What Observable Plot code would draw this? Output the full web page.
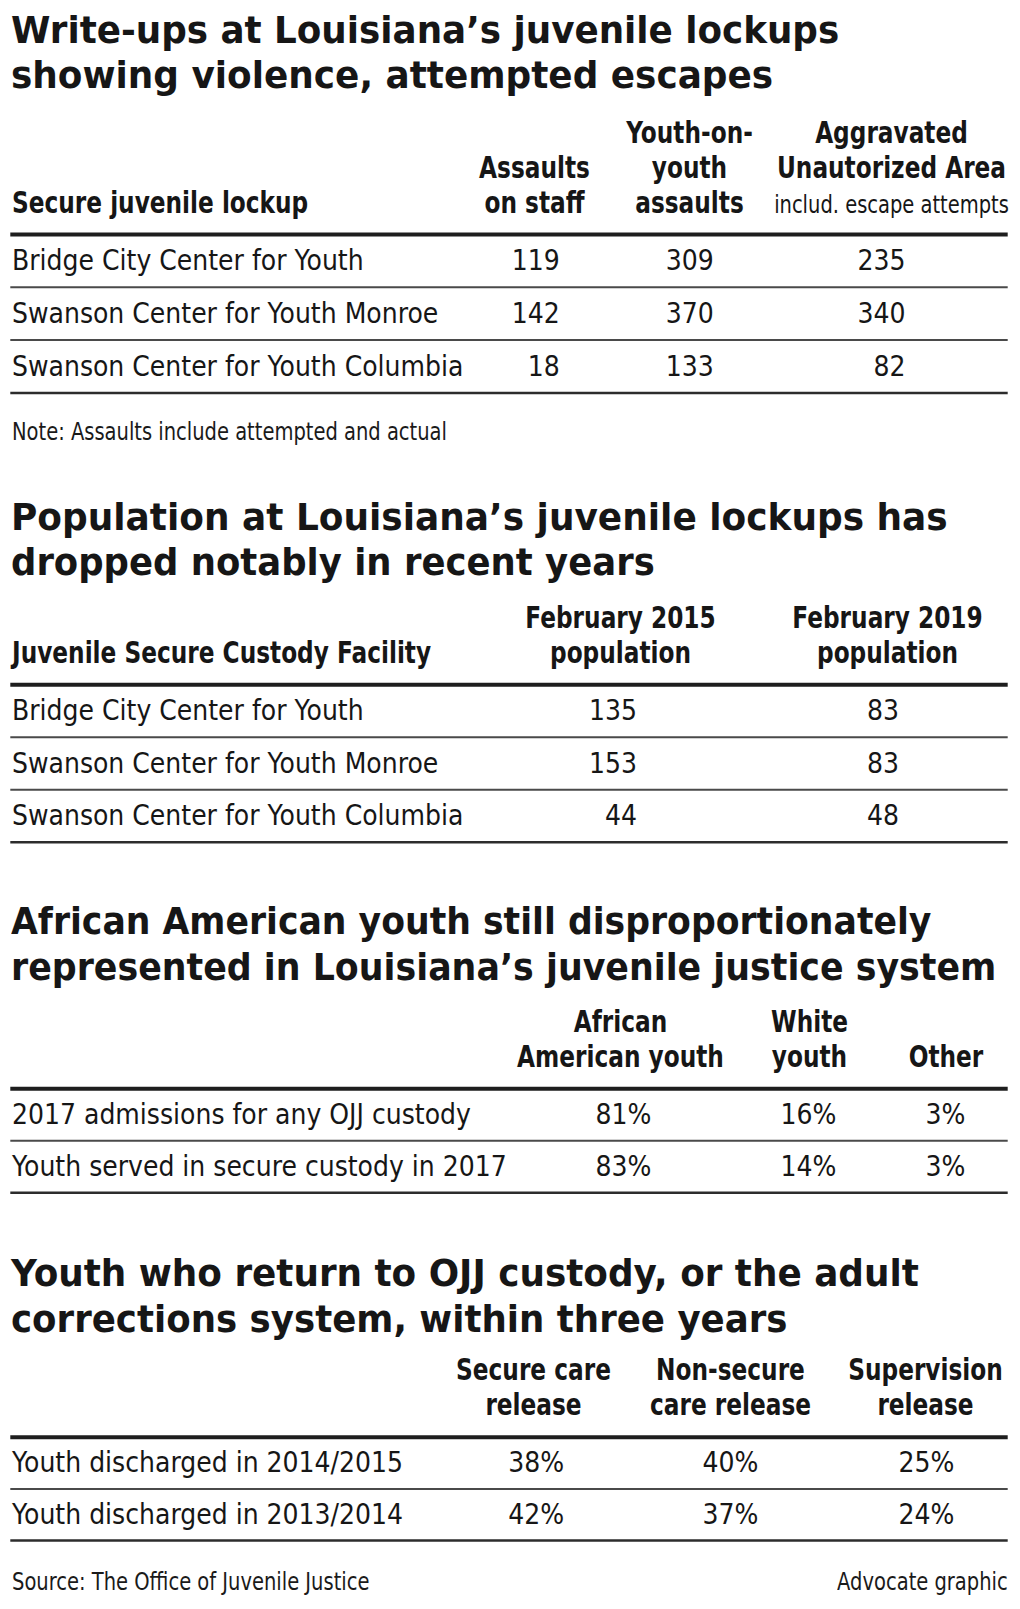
<!DOCTYPE html>
<html>
<head>
<meta charset="utf-8">
<script src="https://cdn.jsdelivr.net/npm/d3@7"></script>
<script src="https://cdn.jsdelivr.net/npm/@observablehq/plot@0.6"></script>
<style>
  html, body { margin: 0; padding: 0; background: #fff; }
  #page { position: relative; width: 1020px; height: 1609px; overflow: hidden; background: #fff; }
  .title { position: absolute; left: 11px; font-family: "DejaVu Sans", sans-serif; font-weight: 700;
           font-size: 38px; line-height: 45.5px; color: #161616; white-space: nowrap; z-index: 2; }
  .title span { display: block; height: 45.5px; transform-origin: 0 0; }
  .cap { position: absolute; font-family: "DejaVu Sans", sans-serif; font-size: 25px; line-height: 25px;
         color: #1a1a1a; white-space: nowrap; transform: scaleX(0.78); z-index: 2; }
  .cap.left { left: 11.5px; transform-origin: 0 0; }
  .cap.right { right: 12px; transform-origin: 100% 0; }
</style>
</head>
<body>
<div id="page"></div>
<script>
// ---------------- DATA ----------------
const titles = [
  ["Write-ups at Louisiana’s juvenile lockups", "showing violence, attempted escapes"],
  ["Population at Louisiana’s juvenile lockups has", "dropped notably in recent years"],
  ["African American youth still disproportionately", "represented in Louisiana’s juvenile justice system"],
  ["Youth who return to OJJ custody, or the adult", "corrections system, within three years"]
];

// Table 1: write-ups
const lockups = ["Bridge City Center for Youth", "Swanson Center for Youth Monroe", "Swanson Center for Youth Columbia"];
const writeupStub = "Secure juvenile lockup";
const writeupHeaders = ["Assaults\non staff", "Youth-on-\nyouth\nassaults", "Aggravated\nUnautorized Area"];
const writeupSubheads = ["", "", "includ. escape attempts"];
const assaultsOnStaff = [119, 142, 18];
const youthOnYouthAssaults = [309, 370, 133];
const aggravatedUnauthorizedArea = [235, 340, 82];
const writeupNote = "Note: Assaults include attempted and actual";

// Table 2: population
const facilities = ["Bridge City Center for Youth", "Swanson Center for Youth Monroe", "Swanson Center for Youth Columbia"];
const popStub = "Juvenile Secure Custody Facility";
const popHeaders = ["February 2015\npopulation", "February 2019\npopulation"];
const pop2015 = [135, 153, 44];
const pop2019 = [83, 83, 48];

// Table 3: race
const raceRows = ["2017 admissions for any OJJ custody", "Youth served in secure custody in 2017"];
const raceHeaders = ["African\nAmerican youth", "White\nyouth", "Other"];
const africanAmericanPct = [81, 83];
const whitePct = [16, 14];
const otherPct = [3, 3];

// Table 4: returns
const returnRows = ["Youth discharged in 2014/2015", "Youth discharged in 2013/2014"];
const returnHeaders = ["Secure care\nrelease", "Non-secure\ncare release", "Supervision\nrelease"];
const secureCarePct = [38, 42];
const nonSecureCarePct = [40, 37];
const supervisionPct = [25, 24];

const sourceText = "Source: The Office of Juvenile Justice";
const creditText = "Advocate graphic";

// ---------------- LAYOUT / STYLE ----------------
const FONT = "DejaVu Sans";
const INK = "#161616";
const LAYOUT = {
  left: 11.5, ruleX1: 10.3, ruleX2: 1007.7, headGap: 22, headLine: 35,
  headSize: 30, bodySize: 27.5, smallSize: 25, rowDy: 0.6,
  squeeze: {"30": 0.775, "27.5": 0.915, "25": 0.78},
  titleTops: [7.9, 494.6, 899.1, 1251.1],
  titleScale: [[0.940, 0.943], [0.945, 0.933], [0.912, 0.916], [0.942, 0.937]],
  noteTop: 418.9, footTop: 1568.9,
  sections: [
    {svgTop: 100, svgH: 300, rule: 234, rowH: 52.8, headX: [534, 689, 891], valX: [559.3, 713.2, 905.1]},
    {svgTop: 590, svgH: 260, rule: 684.3, rowH: 52.5, headX: [620, 887], valX: [636.5, 898.5]},
    {svgTop: 995, svgH: 205, rule: 1088.3, rowH: 52, headX: [620, 809, 945.5], valX: [651, 835.8, 965]},
    {svgTop: 1340, svgH: 205, rule: 1436.7, rowH: 51.7, headX: [533, 730, 925], valX: [563.7, 758, 954]}
  ]
};

const page = document.getElementById("page");

function drawTable(spec, lay) {
  const n = spec.rows.length;
  const y0 = lay.rule - lay.svgTop;
  const cells = [];
  spec.columns.forEach((vals, j) => vals.forEach((v, i) => cells.push({row: i, col: j, label: spec.format(v)})));
  const subs = (spec.subheads || []).map((label, col) => ({col, label})).filter(d => d.label);
  const lifted = new Set(subs.map(d => d.col));
  const heads = spec.headers.map((label, col) => ({col, label}));
  const common = {fontFamily: FONT, fill: INK};
  const marks = [
    Plot.ruleY(d3.range(1, n), {y: d => d, x1: LAYOUT.ruleX1, x2: LAYOUT.ruleX2, stroke: "#4a4a4a", strokeWidth: 2}),
    Plot.ruleY([0], {y: d => d, x1: LAYOUT.ruleX1, x2: LAYOUT.ruleX2, stroke: "#1e1e1e", strokeWidth: 4}),
    Plot.ruleY([n], {y: d => d, x1: LAYOUT.ruleX1, x2: LAYOUT.ruleX2, stroke: "#2c2c2c", strokeWidth: 2.5}),
    Plot.text(heads.filter(d => !lifted.has(d.col)), {
      ...common, x: d => lay.headX[d.col], y: 0, dy: -LAYOUT.headGap, text: "label",
      textAnchor: "middle", lineAnchor: "bottom", fontWeight: "bold", fontSize: LAYOUT.headSize,
      lineHeight: LAYOUT.headLine / LAYOUT.headSize
    }),
    Plot.text(heads.filter(d => lifted.has(d.col)), {
      ...common, x: d => lay.headX[d.col], y: 0, dy: -LAYOUT.headGap - LAYOUT.headLine, text: "label",
      textAnchor: "middle", lineAnchor: "bottom", fontWeight: "bold", fontSize: LAYOUT.headSize,
      lineHeight: LAYOUT.headLine / LAYOUT.headSize
    }),
    Plot.text(subs, {
      ...common, x: d => lay.headX[d.col], y: 0, dy: -LAYOUT.headGap, text: "label",
      textAnchor: "middle", lineAnchor: "bottom", fontSize: LAYOUT.smallSize
    }),
    Plot.text(spec.rows, {
      ...common, x: LAYOUT.left, y: (d, i) => i + 0.5, dy: LAYOUT.rowDy, text: d => d,
      textAnchor: "start", lineAnchor: "middle", fontSize: LAYOUT.bodySize
    }),
    Plot.text(cells, {
      ...common, x: d => lay.valX[d.col], y: d => d.row + 0.5, dy: LAYOUT.rowDy, text: "label",
      textAnchor: "end", lineAnchor: "middle", fontSize: LAYOUT.bodySize
    })
  ];
  if (spec.stub) {
    marks.push(Plot.text([spec.stub], {
      ...common, x: LAYOUT.left, y: 0, dy: -LAYOUT.headGap, text: d => d,
      textAnchor: "start", lineAnchor: "bottom", fontWeight: "bold", fontSize: LAYOUT.headSize
    }));
  }
  const svg = Plot.plot({
    width: 1020, height: lay.svgH, margin: 0,
    x: {type: "linear", domain: [0, 1020], range: [0, 1020], axis: null},
    y: {type: "linear", domain: [0, n], range: [y0, y0 + n * lay.rowH], axis: null},
    marks
  });
  // condense the type around each text's own anchor point
  svg.querySelectorAll("text").forEach(t => {
    const g = t.closest("g[font-size]");
    const s = (g && LAYOUT.squeeze[g.getAttribute("font-size")]) || 1;
    t.setAttribute("transform", (t.getAttribute("transform") || "") + ` scale(${s},1)`);
  });
  svg.style.position = "absolute";
  svg.style.left = "0px";
  svg.style.top = lay.svgTop + "px";
  svg.style.background = "transparent";
  svg.style.overflow = "visible";
  svg.style.maxWidth = "none";
  page.appendChild(svg);
}

const fmtInt = d3.format("d");
const fmtPct = v => `${v}%`;

drawTable({rows: lockups, stub: writeupStub, headers: writeupHeaders, subheads: writeupSubheads,
  columns: [assaultsOnStaff, youthOnYouthAssaults, aggravatedUnauthorizedArea], format: fmtInt}, LAYOUT.sections[0]);
drawTable({rows: facilities, stub: popStub, headers: popHeaders,
  columns: [pop2015, pop2019], format: fmtInt}, LAYOUT.sections[1]);
drawTable({rows: raceRows, headers: raceHeaders,
  columns: [africanAmericanPct, whitePct, otherPct], format: fmtPct}, LAYOUT.sections[2]);
drawTable({rows: returnRows, headers: returnHeaders,
  columns: [secureCarePct, nonSecureCarePct, supervisionPct], format: fmtPct}, LAYOUT.sections[3]);

// titles and captions (HTML, outside the SVGs)
titles.forEach((lines, k) => {
  const div = document.createElement("div");
  div.className = "title";
  div.style.top = LAYOUT.titleTops[k] + "px";
  lines.forEach((line, i) => {
    const span = document.createElement("span");
    span.textContent = line;
    span.style.transform = `scaleX(${LAYOUT.titleScale[k][i]})`;
    div.appendChild(span);
  });
  page.appendChild(div);
});
function caption(text, cls, top) {
  const div = document.createElement("div");
  div.className = "cap " + cls;
  div.style.top = top + "px";
  div.textContent = text;
  page.appendChild(div);
}
caption(writeupNote, "left", LAYOUT.noteTop);
caption(sourceText, "left", LAYOUT.footTop);
caption(creditText, "right", LAYOUT.footTop);
</script>
</body>
</html>
